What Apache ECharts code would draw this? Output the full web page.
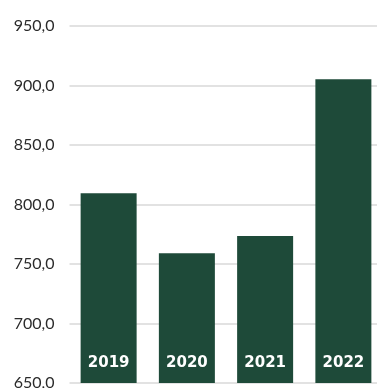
<!DOCTYPE html>
<html>
<head>
<meta charset="utf-8">
<script src="https://cdn.jsdelivr.net/npm/echarts@6/dist/echarts.min.js"></script>
<style>html,body{margin:0;padding:0;background:#fff;overflow:hidden;width:377px;height:388px;}#c{width:390px;height:400px;}</style>
</head>
<body>
<div id="c"></div>
<script>
var categories = ['2019', '2020', '2021', '2022'];
var values = [809.4, 759.0, 773.5, 905.2];
var yMin = 650, yMax = 950, yStep = 50;

var chart = echarts.init(document.getElementById('c'), null, {renderer: 'canvas'});
chart.setOption({
  animation: false,
  grid: {left: 69.5, top: 26, width: 313, height: 357, containLabel: false},
  xAxis: {
    type: 'category',
    data: categories,
    axisLine: {show: false},
    axisTick: {show: false},
    axisLabel: {show: false}
  },
  yAxis: {
    type: 'value',
    min: yMin, max: yMax, interval: yStep,
    axisLine: {show: false},
    axisTick: {show: false},
    splitLine: {lineStyle: {color: '#d9d9d9', width: 1.5}},
    axisLabel: {
      margin: 15,
      color: '#2b2b2b',
      fontFamily: 'Lato',
      fontSize: 16,
      formatter: function (v) { return v.toFixed(1).replace('.', ','); }
    }
  },
  series: [{
    type: 'bar',
    data: values,
    barWidth: 56,
    itemStyle: {color: '#1e4a39'},
    label: {
      show: true,
      position: 'insideBottom',
      distance: 12,
      formatter: function (p) { return p.name; },
      color: '#ffffff',
      fontFamily: 'DejaVu Sans',
      fontWeight: 'bold',
      fontSize: 15
    }
  }]
});
</script>
</body>
</html>
